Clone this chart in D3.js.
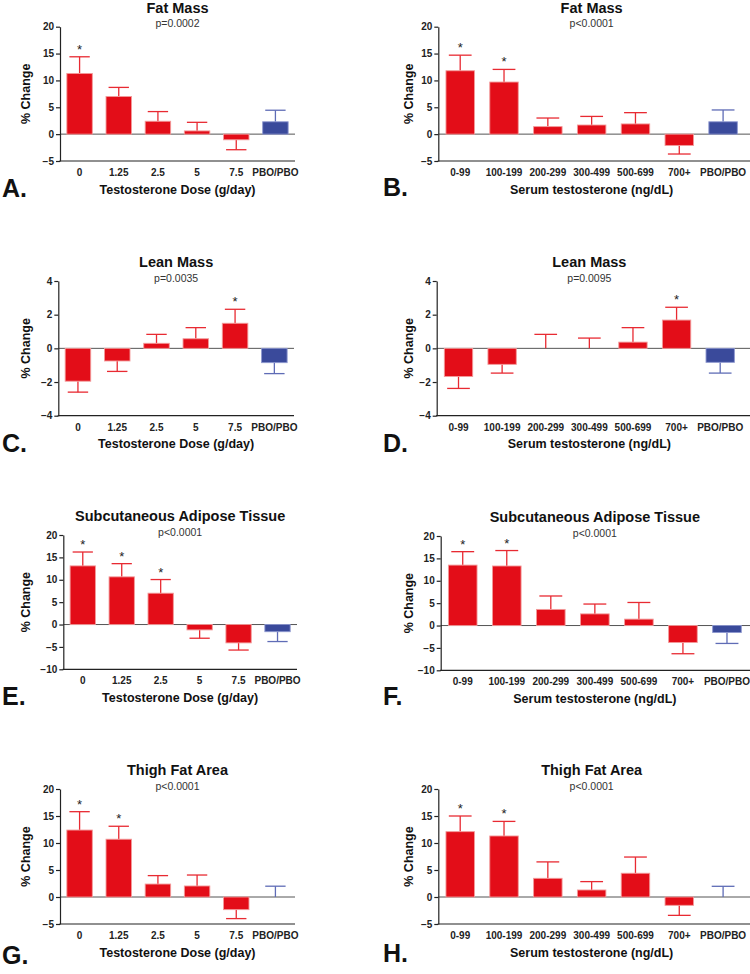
<!DOCTYPE html>
<html>
<head>
<meta charset="utf-8">
<script src="https://cdn.jsdelivr.net/npm/d3@7"></script>
<style>
  html, body { margin: 0; padding: 0; background: #ffffff; }
  svg { display: block; }
  text { font-family: "Liberation Sans", Arial, Helvetica, sans-serif; }
</style>
</head>
<body>
<svg id="chart" width="750" height="974"></svg>
<script>
// ---------- DATA ----------
const doseCats  = ["0", "1.25", "2.5", "5", "7.5", "PBO/PBO"];
const serumCats = ["0-99", "100-199", "200-299", "300-499", "500-699", "700+", "PBO/PBO"];

const titles   = ["Fat Mass", "Lean Mass", "Subcutaneous Adipose Tissue", "Thigh Fat Area"];
const pDose    = ["p=0.0002", "p=0.0035", "p<0.0001", "p<0.0001"];
const pSerum   = ["p<0.0001", "p=0.0095", "p<0.0001", "p<0.0001"];
const letters  = ["A.", "B.", "C.", "D.", "E.", "F.", "G.", "H."];
const doseAxisTitle  = "Testosterone Dose (g/day)";
const serumAxisTitle = "Serum testosterone (ng/dL)";
const yAxisTitle = "% Change";

const ticksFat  = [-5, 0, 5, 10, 15, 20];
const ticksLean = [-4, -2, 0, 2, 4];
const ticksSat  = [-10, -5, 0, 5, 10, 15, 20];

// Fat mass
const fatDose      = [11.3, 7.0, 2.4, 0.6, -1.05, 2.3];
const fatDoseSE    = [3.1, 1.7, 1.8, 1.6, 1.85, 2.15];
const fatDoseStar  = [1, 0, 0, 0, 0, 0];
const fatSerum     = [11.8, 9.7, 1.4, 1.7, 1.9, -2.1, 2.3];
const fatSerumSE   = [2.9, 2.35, 1.6, 1.6, 2.1, 1.6, 2.2];
const fatSerumStar = [1, 1, 0, 0, 0, 0, 0];
// Lean mass
const leanDose      = [-1.95, -0.75, 0.3, 0.57, 1.49, -0.85];
const leanDoseSE    = [0.65, 0.62, 0.53, 0.66, 0.83, 0.65];
const leanDoseStar  = [0, 0, 0, 0, 1, 0];
const leanSerum     = [-1.67, -0.95, 0, 0, 0.37, 1.68, -0.83];
const leanSerumSE   = [0.71, 0.52, 0.83, 0.61, 0.86, 0.76, 0.64];
const leanSerumStar = [0, 0, 0, 0, 0, 1, 0];
// Subcutaneous adipose tissue
const satDose      = [13.1, 10.65, 7.0, -1.2, -4.1, -1.6];
const satDoseSE    = [3.1, 2.95, 3.05, 1.86, 1.6, 2.2];
const satDoseStar  = [1, 1, 1, 0, 0, 0];
const satSerum     = [13.5, 13.3, 3.6, 2.6, 1.43, -3.8, -1.56];
const satSerumSE   = [3.0, 3.45, 3.0, 2.2, 3.72, 2.5, 2.44];
const satSerumStar = [1, 1, 0, 0, 0, 0, 0];
// Thigh fat area
const tfaDose      = [12.4, 10.7, 2.4, 2.04, -2.34, 0];
const tfaDoseSE    = [3.4, 2.4, 1.56, 2.03, 1.66, 2.0];
const tfaDoseStar  = [1, 1, 0, 0, 0, 0];
const tfaSerum     = [12.1, 11.3, 3.46, 1.3, 4.4, -1.54, 0];
const tfaSerumSE   = [2.9, 2.7, 3.04, 1.55, 3.0, 1.86, 1.98];
const tfaSerumStar = [1, 1, 0, 0, 0, 0, 0];

// ---------- STYLE ----------
const RED = "#e30d18", RED_EDGE = "#f39a9a", RED_ERR = "#e82a32";
const BLUE = "#3a4a9b", BLUE_EDGE = "#8d97cf", BLUE_ERR = "#5f6cb6";
const AXIS = "#222";

const svg = d3.select("#chart");

function panel(cfg) {
  const g = svg.append("g");
  const x = d3.scaleBand().domain(cfg.cats).range([cfg.x0, cfg.x1])
    .paddingInner(0.35).paddingOuter(0.175);
  const y = d3.scaleLinear().domain([cfg.ticks[0], cfg.ticks[cfg.ticks.length - 1]])
    .range([cfg.yb, cfg.yt]);
  const data = cfg.cats.map((c, i) => ({ c, v: cfg.vals[i], se: cfg.se[i], star: cfg.star[i], pbo: c === "PBO/PBO" }));

  // zero line
  g.append("line")
    .attr("x1", cfg.x0).attr("x2", cfg.lineEnd)
    .attr("y1", y(0)).attr("y2", y(0))
    .attr("stroke", "#555").attr("stroke-width", 1);

  // error bars (one-sided, away from zero)
  const bw = x.bandwidth();
  const capW = bw * 0.8;
  data.forEach(d => {
    const dir = d.v >= 0 ? 1 : -1;
    const end = d.v + dir * d.se;
    const cx = x(d.c) + bw / 2;
    const col = d.pbo ? BLUE_ERR : RED_ERR;
    g.append("line").attr("x1", cx).attr("x2", cx)
      .attr("y1", y(d.v)).attr("y2", y(end))
      .attr("stroke", col).attr("stroke-width", 1.3);
    g.append("line").attr("x1", cx - capW / 2).attr("x2", cx + capW / 2)
      .attr("y1", y(end)).attr("y2", y(end))
      .attr("stroke", col).attr("stroke-width", 1.3);
    if (d.star) {
      g.append("text").attr("x", cx).attr("y", y(end) - 3)
        .attr("text-anchor", "middle").attr("font-size", 13)
        .attr("fill", "#222").text("*");
    }
  });

  // bars
  g.selectAll("rect.bar").data(data).enter().append("rect")
    .attr("class", "bar")
    .attr("x", d => x(d.c))
    .attr("width", bw)
    .attr("y", d => y(Math.max(0, d.v)))
    .attr("height", d => Math.abs(y(d.v) - y(0)))
    .attr("fill", d => d.pbo ? BLUE : RED)
    .attr("stroke", d => d.v === 0 ? "none" : (d.pbo ? BLUE_EDGE : RED_EDGE))
    .attr("stroke-width", 0.9);

  // y axis
  const ya = g.append("g").attr("transform", `translate(${cfg.x0},0)`)
    .call(d3.axisLeft(y).tickValues(cfg.ticks).tickSize(4).tickPadding(2).tickSizeOuter(0));
  ya.select(".domain").attr("stroke", AXIS).attr("stroke-width", 1.2);
  ya.selectAll(".tick line").attr("stroke", AXIS).attr("stroke-width", 1.2);
  ya.selectAll(".tick text").attr("font-size", 10).attr("font-weight", "bold")
    .attr("fill", "#222").style("font-family", "'Liberation Sans', Arial, sans-serif");

  // x axis
  const xa = g.append("g").attr("transform", `translate(0,${cfg.yb})`)
    .call(d3.axisBottom(x).tickSize(0).tickPadding(8).tickSizeOuter(0));
  xa.select(".domain").attr("stroke", AXIS).attr("stroke-width", 1.2)
    .attr("d", `M${cfg.x0 - 0.6},0H${cfg.lineEnd}`);
  xa.selectAll(".tick text").attr("font-size", 10).attr("font-weight", "bold")
    .attr("fill", "#222").style("font-family", "'Liberation Sans', Arial, sans-serif");

  const cxm = (cfg.x0 + cfg.x1) / 2;
  // title
  g.append("text").attr("x", cxm).attr("y", cfg.yt - 14.2)
    .attr("text-anchor", "middle").attr("font-size", 14.5).attr("font-weight", "bold")
    .attr("fill", "#111").text(cfg.title);
  g.append("text").attr("x", cxm).attr("y", cfg.yt + 0.6)
    .attr("text-anchor", "middle").attr("font-size", 10.5)
    .attr("fill", "#333").text(cfg.p);
  // x axis title
  g.append("text").attr("x", cxm).attr("y", cfg.yb + 32.5)
    .attr("text-anchor", "middle").attr("font-size", 12.5).attr("font-weight", "bold")
    .attr("fill", "#111").text(cfg.xTitle);
  // y axis title
  g.append("text")
    .attr("transform", `translate(${cfg.yLabX},${(cfg.yt + cfg.yb) / 2}) rotate(-90)`)
    .attr("text-anchor", "middle").attr("font-size", 12.5).attr("font-weight", "bold")
    .attr("fill", "#111").text(yAxisTitle);
  // panel letter
  g.append("text").attr("x", cfg.lx).attr("y", cfg.ly)
    .attr("font-size", 25).attr("font-weight", "bold")
    .attr("fill", "#111").text(cfg.letter);
}

const panels = [
  { cats: doseCats, vals: fatDose, se: fatDoseSE, star: fatDoseStar, ticks: ticksFat,
    x0: 60, x1: 295, lineEnd: 295, yt: 26.7, yb: 161, title: titles[0], p: pDose[0],
    xTitle: doseAxisTitle, yLabX: 30, lx: 2, ly: 197, letter: letters[0] },
  { cats: serumCats, vals: fatSerum, se: fatSerumSE, star: fatSerumStar, ticks: ticksFat,
    x0: 438.3, x1: 745, lineEnd: 750, yt: 26.7, yb: 161, title: titles[0], p: pSerum[0],
    xTitle: serumAxisTitle, yLabX: 412.5, lx: 383, ly: 196, letter: letters[1] },
  { cats: doseCats, vals: leanDose, se: leanDoseSE, star: leanDoseStar, ticks: ticksLean,
    x0: 58.3, x1: 294, lineEnd: 294, yt: 281, yb: 415.7, title: titles[1], p: pDose[1],
    xTitle: doseAxisTitle, yLabX: 30, lx: 2, ly: 452, letter: letters[2] },
  { cats: serumCats, vals: leanSerum, se: leanSerumSE, star: leanSerumStar, ticks: ticksLean,
    x0: 436.7, x1: 742, lineEnd: 750, yt: 281, yb: 415.7, title: titles[1], p: pSerum[1],
    xTitle: serumAxisTitle, yLabX: 412.5, lx: 383, ly: 452, letter: letters[3] },
  { cats: doseCats, vals: satDose, se: satDoseSE, star: satDoseStar, ticks: ticksSat,
    x0: 63.3, x1: 297, lineEnd: 297, yt: 535, yb: 669.3, title: titles[2], p: pDose[2],
    xTitle: doseAxisTitle, yLabX: 30, lx: 2, ly: 705, letter: letters[4] },
  { cats: serumCats, vals: satSerum, se: satSerumSE, star: satSerumStar, ticks: ticksSat,
    x0: 440.7, x1: 749, lineEnd: 750, yt: 536, yb: 670.3, title: titles[2], p: pSerum[2],
    xTitle: serumAxisTitle, yLabX: 412.5, lx: 383, ly: 705, letter: letters[5] },
  { cats: doseCats, vals: tfaDose, se: tfaDoseSE, star: tfaDoseStar, ticks: ticksFat,
    x0: 60, x1: 295, lineEnd: 295, yt: 789, yb: 924, title: titles[3], p: pDose[3],
    xTitle: doseAxisTitle, yLabX: 30, lx: 2, ly: 964, letter: letters[6] },
  { cats: serumCats, vals: tfaSerum, se: tfaSerumSE, star: tfaSerumStar, ticks: ticksFat,
    x0: 438.3, x1: 745, lineEnd: 750, yt: 789, yb: 924, title: titles[3], p: pSerum[3],
    xTitle: serumAxisTitle, yLabX: 412.5, lx: 383, ly: 962, letter: letters[7] }
];

panels.forEach(panel);
</script>
</body>
</html>
